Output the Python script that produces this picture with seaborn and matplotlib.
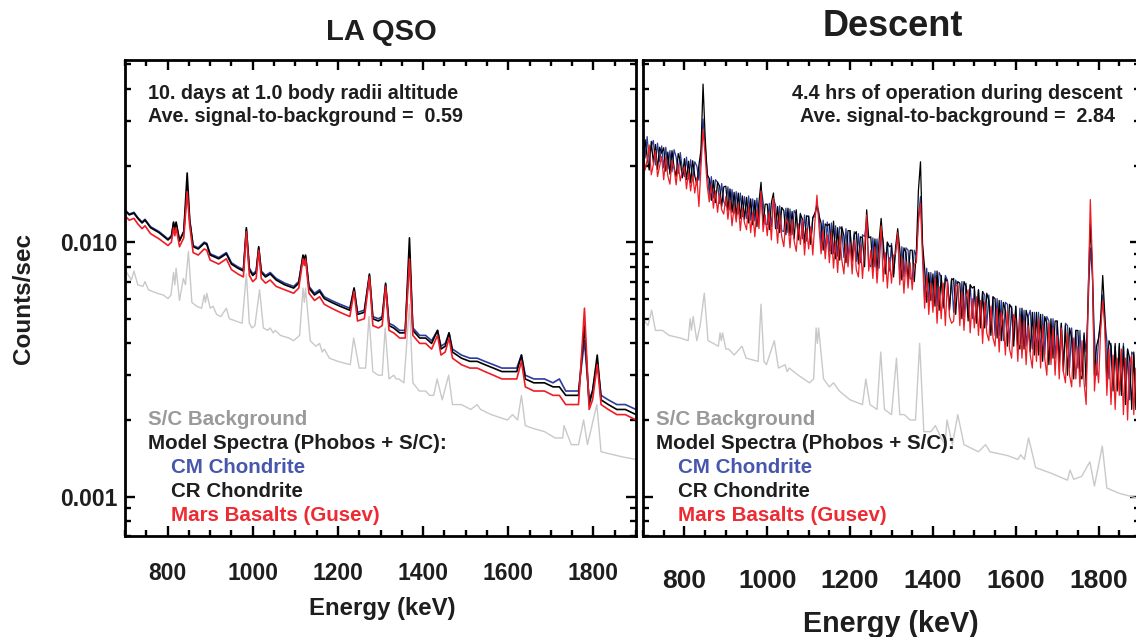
import numpy as np
import pandas as pd
import matplotlib
matplotlib.use("Agg")
import matplotlib.pyplot as plt
import seaborn as sns
from matplotlib.ticker import MultipleLocator, LogLocator, NullFormatter, FuncFormatter

# ---- LA QSO panel: model spectra (counts/sec) ----
qso_energy = [700, 710, 721, 730, 740, 747, 760, 780, 801, 809,
              814, 817, 820, 828, 838, 846, 852, 860, 872, 886,
              892, 900, 907, 920, 938, 950, 965, 978, 985, 992,
              1000, 1008, 1014, 1020, 1030, 1041, 1055, 1075, 1096, 1108,
              1118, 1121, 1124, 1132, 1145, 1157, 1168, 1185, 1205, 1228,
              1238, 1246, 1262, 1274, 1282, 1295, 1304, 1312, 1320, 1331,
              1345, 1358, 1368, 1376, 1392, 1406, 1420, 1434, 1442, 1452,
              1461, 1469, 1490, 1510, 1527, 1545, 1565, 1585, 1605, 1620,
              1631, 1640, 1660, 1685, 1705, 1720, 1735, 1750, 1765, 1779,
              1790, 1798, 1809, 1818, 1835, 1855, 1875, 1900]
qso_cm = [0.0134, 0.0129, 0.0131, 0.0125, 0.0120, 0.0123, 0.0115, 0.0110, 0.0103, 0.0106,
          0.0119, 0.0112, 0.0119, 0.0102, 0.0110, 0.0163, 0.0121, 0.0097, 0.0095, 0.0100,
          0.0099, 0.0090, 0.0089, 0.0087, 0.0091, 0.0083, 0.0080, 0.0078, 0.0112, 0.0079,
          0.0075, 0.0077, 0.0095, 0.0077, 0.0074, 0.0076, 0.0072, 0.0069, 0.0067, 0.0070,
          0.0088, 0.0085, 0.0088, 0.0067, 0.0063, 0.0065, 0.0061, 0.0059, 0.0057, 0.0055,
          0.0066, 0.0053, 0.0054, 0.0074, 0.0051, 0.0050, 0.0051, 0.0068, 0.0048, 0.0047,
          0.0045, 0.0045, 0.0090, 0.0046, 0.0043, 0.0043, 0.0041, 0.0045, 0.0039, 0.0040,
          0.0044, 0.0038, 0.0036, 0.0035, 0.0035, 0.0034, 0.0033, 0.0032, 0.0032, 0.0032,
          0.0036, 0.0030, 0.0029, 0.0029, 0.0028, 0.0029, 0.0026, 0.0026, 0.0026, 0.0041,
          0.0024, 0.0026, 0.0034, 0.0025, 0.0024, 0.0023, 0.0023, 0.0022]
qso_cr = [0.0133, 0.0128, 0.0130, 0.0124, 0.0119, 0.0122, 0.0114, 0.0109, 0.0102, 0.0105,
          0.0120, 0.0112, 0.0120, 0.0101, 0.0110, 0.0187, 0.0122, 0.0096, 0.0094, 0.0099,
          0.0098, 0.0089, 0.0088, 0.0086, 0.0090, 0.0082, 0.0079, 0.0077, 0.0114, 0.0078,
          0.0074, 0.0076, 0.0096, 0.0076, 0.0073, 0.0075, 0.0071, 0.0068, 0.0066, 0.0069,
          0.0089, 0.0085, 0.0089, 0.0066, 0.0062, 0.0064, 0.0060, 0.0058, 0.0056, 0.0054,
          0.0066, 0.0052, 0.0053, 0.0075, 0.0050, 0.0049, 0.0050, 0.0069, 0.0047, 0.0046,
          0.0044, 0.0044, 0.0104, 0.0045, 0.0042, 0.0042, 0.0040, 0.0045, 0.0038, 0.0039,
          0.0044, 0.0037, 0.0035, 0.0034, 0.0034, 0.0033, 0.0032, 0.0031, 0.0031, 0.0031,
          0.0036, 0.0029, 0.0028, 0.0028, 0.0027, 0.0027, 0.0025, 0.0025, 0.0025, 0.0047,
          0.0023, 0.0026, 0.0036, 0.0024, 0.0023, 0.0022, 0.0022, 0.0021]
qso_mars = [0.0127, 0.0122, 0.0124, 0.0118, 0.0113, 0.0116, 0.0108, 0.0103, 0.0097, 0.0100,
            0.0114, 0.0106, 0.0114, 0.0096, 0.0104, 0.0158, 0.0116, 0.0091, 0.0089, 0.0094,
            0.0093, 0.0085, 0.0084, 0.0082, 0.0086, 0.0078, 0.0075, 0.0073, 0.0110, 0.0074,
            0.0070, 0.0072, 0.0093, 0.0072, 0.0069, 0.0071, 0.0067, 0.0065, 0.0063, 0.0066,
            0.0086, 0.0081, 0.0086, 0.0063, 0.0059, 0.0061, 0.0057, 0.0055, 0.0053, 0.0051,
            0.0064, 0.0049, 0.0050, 0.0073, 0.0047, 0.0046, 0.0047, 0.0067, 0.0045, 0.0044,
            0.0042, 0.0042, 0.0086, 0.0043, 0.0040, 0.0040, 0.0038, 0.0043, 0.0036, 0.0037,
            0.0042, 0.0035, 0.0033, 0.0032, 0.0032, 0.0031, 0.0030, 0.0029, 0.0029, 0.0029,
            0.0034, 0.0027, 0.0026, 0.0026, 0.0025, 0.0025, 0.0023, 0.0023, 0.0023, 0.0055,
            0.0022, 0.0024, 0.0033, 0.0023, 0.0022, 0.0021, 0.0021, 0.0020]

# ---- LA QSO panel: spacecraft background ----
qso_bg_energy = [700, 715, 721, 730, 742, 747, 755, 775, 790, 801,
                 808, 814, 817, 820, 828, 837, 842, 849, 857, 868,
                 880, 886, 889, 892, 900, 907, 915, 925, 938, 945,
                 960, 975, 985, 992, 998, 1005, 1016, 1025, 1035, 1041,
                 1048, 1053, 1065, 1085, 1096, 1110, 1118, 1121, 1124, 1135,
                 1148, 1157, 1163, 1168, 1180, 1200, 1229, 1237, 1250, 1265,
                 1273, 1282, 1295, 1304, 1311, 1320, 1331, 1337, 1343, 1355,
                 1368, 1376, 1391, 1406, 1415, 1425, 1433, 1445, 1460, 1469,
                 1490, 1512, 1527, 1535, 1560, 1598, 1610, 1622, 1631, 1640,
                 1660, 1685, 1710, 1728, 1731, 1748, 1765, 1777, 1786, 1808,
                 1818, 1840, 1870, 1900]
qso_bg = [0.0078, 0.0071, 0.0077, 0.0068, 0.0067, 0.0070, 0.0065, 0.0063, 0.0062, 0.0060,
          0.0062, 0.0076, 0.0068, 0.0079, 0.0059, 0.0072, 0.0068, 0.0092, 0.0058, 0.0056,
          0.0055, 0.0062, 0.0058, 0.0063, 0.0055, 0.0056, 0.0052, 0.0051, 0.0055, 0.0050,
          0.0049, 0.0048, 0.0075, 0.0048, 0.0046, 0.0047, 0.0065, 0.0046, 0.0045, 0.0046,
          0.0044, 0.0045, 0.0043, 0.0042, 0.0041, 0.0043, 0.0066, 0.0058, 0.0066, 0.0041,
          0.0039, 0.0040, 0.0037, 0.0038, 0.0035, 0.0034, 0.0033, 0.0042, 0.0032, 0.0032,
          0.0051, 0.0031, 0.0030, 0.0030, 0.0046, 0.0029, 0.0030, 0.0029, 0.0029, 0.0028,
          0.0057, 0.0028, 0.0026, 0.0026, 0.0025, 0.0025, 0.0029, 0.0024, 0.0030, 0.0023,
          0.0023, 0.0022, 0.0023, 0.0022, 0.0021, 0.0020, 0.0021, 0.0020, 0.0025, 0.0019,
          0.00185, 0.0018, 0.0017, 0.0017, 0.0019, 0.0016, 0.0016, 0.0020, 0.0016, 0.0023,
          0.0015, 0.00147, 0.00143, 0.0014]

# ---- Descent panel: model spectra, 5 keV channels, in milli-counts/sec ----
desc_energy = np.arange(700, 1901, 5)
desc_cm_mcps = [
    25.6, 21.4, 26.0, 20.6, 23.8, 25.1, 20.1, 24.5, 20.7, 23.9,
    19.6, 23.6, 19.4, 22.9, 18.9, 23.1, 21.6, 18.6, 22.5, 19.4,
    18.1, 21.6, 17.7, 21.1, 17.4, 20.7, 19.9, 17.5, 22.0, 30.5,
    24.0, 19.0, 15.3, 18.1, 14.9, 17.6, 17.2, 14.2, 17.0, 14.4,
    13.9, 16.5, 13.4, 16.1, 13.0, 15.8, 12.9, 15.6, 12.6, 15.1,
    12.4, 15.2, 12.2, 14.8, 12.1, 14.9, 12.0, 16.4, 14.4, 11.8,
    11.7, 14.2, 11.5, 14.8, 14.0, 11.3, 13.9, 11.1, 11.0, 13.6,
    10.9, 13.5, 10.7, 13.3, 12.9, 10.4, 13.0, 10.3, 12.8, 10.1,
    12.7, 10.0, 12.5, 12.6, 14.2, 13.0, 9.7, 12.2, 9.4, 12.0,
    9.2, 11.9, 9.0, 11.6, 8.8, 11.5, 11.2, 8.7, 11.3, 8.6,
    11.1, 8.6, 11.0, 8.4, 10.8, 8.3, 10.7, 10.5, 12.2, 8.2,
    8.0, 10.4, 8.0, 10.3, 7.9, 11.2, 10.1, 7.8, 10.0, 7.7,
    9.9, 7.5, 9.3, 10.6, 7.4, 9.6, 7.3, 9.5, 9.3, 7.2,
    7.1, 9.3, 8.8, 12.5, 15.1, 9.4, 6.0, 7.9, 5.8, 7.6,
    5.7, 7.7, 5.6, 7.6, 7.3, 5.5, 7.4, 7.1, 5.5, 7.2,
    5.3, 7.1, 6.7, 5.2, 7.0, 5.1, 6.9, 5.1, 6.8, 5.0,
    6.6, 4.9, 6.5, 4.8, 6.4, 6.2, 4.7, 6.2, 4.5, 6.1,
    4.3, 6.0, 4.3, 5.9, 4.1, 5.8, 5.7, 4.0, 5.6, 4.1,
    5.6, 3.9, 5.5, 4.0, 5.4, 3.9, 5.1, 5.4, 3.8, 5.3,
    3.7, 5.3, 3.7, 5.2, 3.6, 5.1, 4.9, 3.5, 5.0, 3.5,
    4.9, 3.4, 4.8, 3.3, 4.8, 4.7, 3.2, 4.6, 3.3, 4.5,
    3.2, 4.5, 3.1, 4.3, 3.7, 5.8, 9.5, 7.4, 4.3, 3.0,
    4.2, 4.7, 6.2, 5.0, 4.1, 2.9, 4.0, 2.8, 3.9, 2.8,
    3.9, 2.6, 4.0, 2.5, 3.8, 2.4, 3.7, 3.6, 2.4, 3.5,
    2.6]
desc_cr_mcps = [
    20.4, 25.3, 21.6, 19.2, 24.9, 20.5, 24.2, 19.3, 23.6, 22.4,
    23.5, 19.0, 22.6, 18.5, 22.9, 19.7, 18.1, 22.3, 20.8, 17.9,
    21.3, 17.6, 20.8, 17.1, 20.9, 18.2, 16.8, 20.1, 23.0, 41.8,
    26.0, 18.4, 17.8, 14.6, 17.5, 14.3, 17.2, 16.6, 13.8, 16.5,
    16.6, 13.3, 16.2, 13.1, 15.7, 12.6, 15.6, 12.4, 15.2, 12.3,
    15.0, 11.9, 14.8, 11.7, 14.6, 11.5, 14.4, 17.2, 11.7, 14.1,
    14.1, 11.2, 14.3, 15.6, 11.3, 13.8, 10.9, 13.7, 13.3, 10.7,
    13.6, 10.6, 13.2, 10.3, 13.4, 10.2, 12.9, 12.3, 9.9, 12.7,
    12.6, 9.8, 12.5, 13.0, 13.9, 12.7, 11.9, 9.3, 11.8, 11.6,
    11.8, 9.0, 12.1, 8.6, 11.4, 8.5, 11.5, 10.6, 8.3, 11.1,
    11.1, 8.4, 10.7, 11.0, 8.2, 10.5, 10.4, 8.0, 13.4, 10.4,
    10.5, 7.8, 10.3, 7.7, 10.1, 12.4, 9.7, 7.5, 10.0, 9.6,
    9.7, 7.3, 9.6, 11.3, 9.4, 7.1, 9.5, 9.1, 7.0, 9.3,
    9.3, 7.0, 9.2, 16.0, 20.7, 9.8, 7.9, 5.8, 7.6, 5.9,
    7.5, 5.6, 7.7, 5.4, 7.4, 5.6, 7.2, 7.0, 5.4, 7.1,
    7.2, 5.2, 7.0, 6.9, 5.0, 7.0, 6.7, 4.9, 6.8, 6.6,
    6.7, 4.8, 6.5, 4.6, 6.4, 4.6, 6.3, 5.9, 4.3, 6.1,
    6.0, 4.2, 5.9, 4.1, 5.8, 5.4, 3.9, 5.7, 5.5, 3.9,
    5.6, 4.0, 3.8, 5.5, 3.8, 5.4, 5.0, 3.7, 5.3, 3.6,
    5.3, 3.6, 5.2, 3.4, 5.1, 4.8, 3.3, 5.0, 3.5, 4.9,
    4.9, 3.3, 4.8, 3.1, 4.7, 3.0, 4.6, 4.2, 2.9, 4.5,
    4.5, 3.0, 2.9, 4.4, 2.7, 6.5, 11.8, 7.9, 3.0, 3.9,
    4.2, 5.0, 7.4, 5.2, 2.8, 4.1, 3.9, 2.6, 4.0, 2.6,
    4.0, 2.5, 3.9, 2.3, 3.8, 3.5, 2.2, 3.7, 2.2, 3.5,
    2.4]
desc_mars_mcps = [
    23.8, 19.2, 21.0, 24.1, 18.4, 20.2, 22.9, 18.1, 19.8, 21.7,
    17.6, 21.6, 18.2, 16.9, 20.9, 19.5, 16.8, 20.3, 17.4, 19.1,
    19.8, 16.2, 18.9, 15.9, 18.4, 15.6, 17.9, 13.8, 19.8, 27.7,
    22.0, 16.7, 14.4, 16.8, 13.6, 15.9, 13.1, 15.5, 13.4, 12.9,
    15.1, 12.3, 14.6, 11.6, 13.9, 12.0, 14.2, 11.1, 13.6, 11.9,
    11.2, 13.9, 10.9, 13.1, 10.5, 13.4, 11.3, 15.9, 11.0, 12.8,
    10.6, 13.2, 10.2, 14.9, 12.6, 9.9, 12.9, 10.5, 9.6, 12.3,
    11.9, 9.5, 12.3, 10.1, 9.2, 11.8, 9.8, 12.2, 8.9, 11.3,
    9.4, 11.5, 8.9, 12.0, 15.3, 11.4, 9.0, 11.1, 8.6, 10.7,
    8.3, 10.9, 7.9, 10.1, 7.6, 10.6, 8.5, 7.5, 9.9, 8.0,
    9.9, 7.5, 10.2, 7.8, 7.3, 9.8, 7.2, 9.5, 12.8, 7.7,
    9.3, 7.2, 9.6, 6.9, 8.9, 11.6, 7.0, 9.1, 6.6, 8.7,
    6.9, 8.9, 9.0, 10.9, 6.8, 8.7, 6.3, 8.4, 6.6, 8.3,
    6.5, 8.2, 8.3, 12.0, 14.2, 8.6, 5.5, 7.4, 5.2, 6.9,
    5.3, 7.2, 4.8, 6.7, 5.0, 6.9, 4.7, 7.0, 5.1, 4.8,
    4.9, 6.7, 6.8, 4.7, 6.4, 4.5, 6.1, 6.5, 4.4, 6.0,
    4.6, 6.1, 4.3, 5.9, 4.0, 5.8, 4.4, 4.1, 5.6, 4.2,
    3.9, 5.5, 3.7, 5.3, 4.9, 3.6, 5.4, 3.8, 3.5, 5.2,
    4.9, 3.4, 5.1, 3.5, 4.9, 3.3, 4.7, 3.6, 3.2, 4.8,
    3.4, 5.0, 3.2, 4.7, 3.5, 3.0, 4.8, 3.3, 4.6, 3.0,
    4.3, 2.9, 4.6, 3.1, 2.8, 4.4, 3.0, 2.7, 4.2, 2.9,
    3.9, 2.7, 4.1, 2.8, 2.3, 6.2, 14.7, 8.3, 2.6, 3.4,
    2.8, 4.5, 5.9, 4.6, 2.5, 3.8, 2.3, 3.6, 2.2, 3.5,
    2.5, 3.8, 2.1, 3.5, 2.0, 3.3, 3.6, 2.1, 3.2, 2.0,
    2.5]

# ---- Descent panel: spacecraft background ----
desc_bg_energy = [700, 712, 721, 730, 747, 763, 790, 809, 814, 817,
                  821, 830, 838, 848, 857, 870, 882, 886, 889, 892,
                  900, 907, 920, 939, 949, 978, 985, 992, 998, 1017,
                  1027, 1043, 1048, 1053, 1075, 1102, 1112, 1118, 1121, 1124,
                  1136, 1150, 1160, 1174, 1200, 1230, 1238, 1248, 1265, 1274,
                  1283, 1300, 1312, 1320, 1331, 1345, 1358, 1368, 1378, 1395,
                  1406, 1420, 1429, 1434, 1447, 1460, 1475, 1510, 1527, 1538,
                  1580, 1605, 1612, 1621, 1631, 1648, 1683, 1725, 1731, 1740,
                  1759, 1779, 1790, 1809, 1820, 1850, 1900]
desc_bg = [0.0050, 0.0047, 0.0054, 0.0045, 0.0045, 0.0043, 0.0042, 0.0041, 0.0050, 0.0045,
           0.0051, 0.0041, 0.0047, 0.0063, 0.0041, 0.0040, 0.0039, 0.0044, 0.0041, 0.0044,
           0.0038, 0.0038, 0.0036, 0.0039, 0.0035, 0.0034, 0.0057, 0.0034, 0.0033, 0.0041,
           0.0032, 0.0033, 0.0031, 0.0032, 0.0030, 0.0028, 0.0029, 0.0046, 0.0040, 0.0046,
           0.0029, 0.0027, 0.0028, 0.0026, 0.0024, 0.0023, 0.0029, 0.0023, 0.0022, 0.0037,
           0.0022, 0.0021, 0.0035, 0.0021, 0.0021, 0.0020, 0.0020, 0.0040, 0.0018, 0.0018,
           0.0019, 0.0017, 0.0016, 0.0020, 0.0016, 0.0021, 0.0016, 0.0015, 0.0016, 0.0015,
           0.00145, 0.0014, 0.00146, 0.0014, 0.0017, 0.0013, 0.00124, 0.00116, 0.00127, 0.00117,
           0.0012, 0.00137, 0.0011, 0.00158, 0.00108, 0.00103, 0.00098]

samples = ["CM Chondrite", "CR Chondrite", "Mars Basalts (Gusev)"]
line_colors = {"CM Chondrite": "#2b3c9b", "CR Chondrite": "#000000",
               "Mars Basalts (Gusev)": "#ee1c25"}

qso_df = pd.concat([
    pd.DataFrame({"energy": qso_energy, "rate": qso_cm, "sample": samples[0]}),
    pd.DataFrame({"energy": qso_energy, "rate": qso_cr, "sample": samples[1]}),
    pd.DataFrame({"energy": qso_energy, "rate": qso_mars, "sample": samples[2]}),
])
desc_df = pd.concat([
    pd.DataFrame({"energy": desc_energy, "rate": np.array(desc_cm_mcps) / 1000, "sample": samples[0]}),
    pd.DataFrame({"energy": desc_energy, "rate": np.array(desc_cr_mcps) / 1000, "sample": samples[1]}),
    pd.DataFrame({"energy": desc_energy, "rate": np.array(desc_mars_mcps) / 1000, "sample": samples[2]}),
])

sns.set_theme(style="ticks")
plt.rcParams["font.family"] = ["Liberation Sans", "DejaVu Sans"]
plt.rcParams["font.weight"] = "bold"
TXT = "#1e1e1e"

W, H = 1136, 637
fig = plt.figure(figsize=(W / 100, H / 100), dpi=100)
ax1 = fig.add_axes([125 / W, 1 - 536 / H, 511 / W, 476 / H])
ax2 = fig.add_axes([643 / W, 1 - 536 / H, 497 / W, 476 / H])


def px(x, y):
    return x / W, 1 - y / H


def style_axes(ax, xtick_size, xpad):
    ax.set_yscale("log")
    ax.set_xlim(700, 1900)
    ax.set_ylim(0.0007, 0.052)
    ax.set_xlabel("")
    ax.set_ylabel("")
    ax.xaxis.set_major_locator(MultipleLocator(200))
    ax.xaxis.set_minor_locator(MultipleLocator(50))
    ax.yaxis.set_major_locator(LogLocator(base=10))
    ax.yaxis.set_minor_locator(LogLocator(base=10, subs=np.arange(2, 10)))
    ax.yaxis.set_minor_formatter(NullFormatter())
    ax.yaxis.set_major_formatter(FuncFormatter(lambda v, p: f"{v:.3f}"))
    ax.tick_params(which="both", direction="in", top=True, right=True,
                   width=1.7, color="black", labelcolor=TXT)
    ax.tick_params(which="major", length=7.5)
    ax.tick_params(which="minor", length=4)
    ax.tick_params(axis="x", labelsize=xtick_size, pad=xpad)
    ax.tick_params(axis="y", labelsize=16.5, pad=5.5)
    for s in ax.spines.values():
        s.set_visible(True)
        s.set_linewidth(2.0)
        s.set_color("black")


for ax, bg_e, bg_v, df, lw in [(ax1, qso_bg_energy, qso_bg, qso_df, 1.2),
                               (ax2, desc_bg_energy, desc_bg, desc_df, 0.9)]:
    sns.lineplot(x=bg_e, y=bg_v, ax=ax, color="#c9c9c9", lw=1.0,
                 estimator=None, sort=False)
    for s in samples:
        part = df[df["sample"] == s]
        sns.lineplot(data=part, x="energy", y="rate", ax=ax, color=line_colors[s],
                     lw=lw, estimator=None, sort=False)

style_axes(ax1, 16.5, 19)
style_axes(ax2, 19, 24)
ax2.tick_params(labelleft=False)

# titles and axis labels
fig.text(*px(381, 32), "LA QSO", ha="center", va="center", fontsize=21, color=TXT)
fig.text(*px(893, 27), "Descent", ha="center", va="center", fontsize=26, color=TXT)
fig.text(*px(24, 298), "Counts/sec", rotation=90, ha="center", va="center",
         fontsize=17.5, color=TXT)
fig.text(*px(382, 615), "Energy (keV)", ha="center", va="baseline", fontsize=17.3, color=TXT)
fig.text(*px(891, 632), "Energy (keV)", ha="center", va="baseline", fontsize=20.7, color=TXT)

# panel notes
fig.text(*px(148, 99), "10. days at 1.0 body radii altitude", va="baseline",
         fontsize=14.2, color=TXT)
fig.text(*px(148, 122), "Ave. signal-to-background =  0.59", va="baseline",
         fontsize=14.2, color=TXT)
fig.text(*px(957, 99), "4.4 hrs of operation during descent", ha="center",
         va="baseline", fontsize=14.2, color=TXT)
fig.text(*px(957, 122), "Ave. signal-to-background =  2.84", ha="center",
         va="baseline", fontsize=14.2, color=TXT)

# legend-style text lists
legend_rows = [("S/C Background", "#9a9a9a", 0), ("Model Spectra (Phobos + S/C):", TXT, 0),
               ("CM Chondrite", "#4657ad", 1), ("CR Chondrite", TXT, 1),
               ("Mars Basalts (Gusev)", "#ee2a33", 1)]
for x0, x_ind in [(148, 171), (656, 678)]:
    for i, (label, col, ind) in enumerate(legend_rows):
        fig.text(*px(x_ind if ind else x0, 425 + 24 * i), label, va="baseline",
                 fontsize=14.8, color=col)

fig.savefig("out.png", dpi=100)
